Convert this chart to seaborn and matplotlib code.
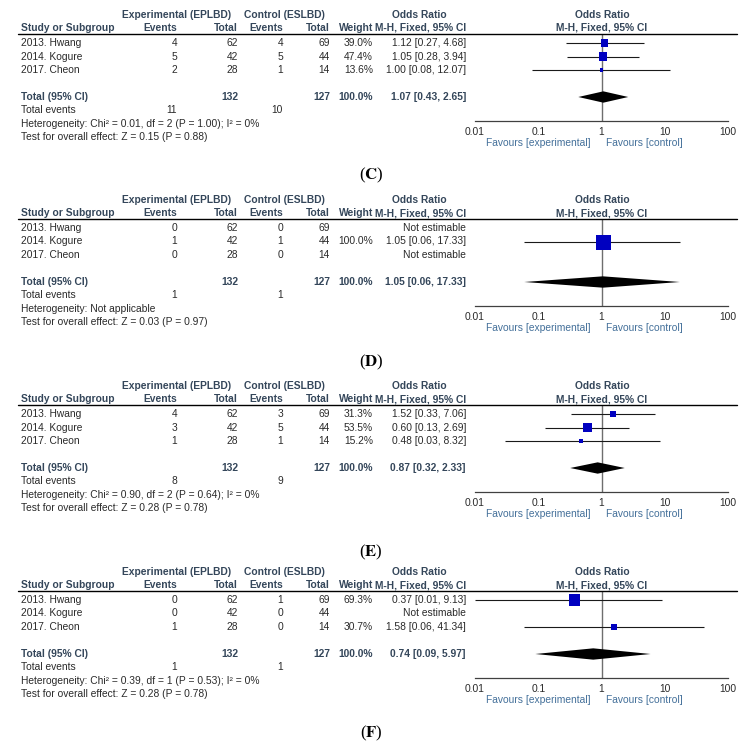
import matplotlib
matplotlib.use("Agg")
import matplotlib.pyplot as plt
import seaborn as sns
from matplotlib.lines import Line2D


# ==========================================
# DATA
# ==========================================

panel_labels = ["C", "D", "E", "F"]

studies = ["2013. Hwang", "2014. Kogure", "2017. Cheon"]
exp_total = [62, 42, 28]
ctl_total = [69, 44, 14]

exp_events = [[4, 5, 2], [0, 1, 0], [4, 3, 1], [0, 0, 1]]
ctl_events = [[4, 5, 1], [0, 1, 0], [3, 5, 1], [1, 0, 0]]

weights = [[39.0, 47.4, 13.6], [None, 100.0, None], [31.3, 53.5, 15.2], [69.3, None, 30.7]]
or_est = [[1.12, 1.05, 1.00], [None, 1.05, None], [1.52, 0.60, 0.48], [0.37, None, 1.58]]
or_lo = [[0.27, 0.28, 0.08], [None, 0.06, None], [0.33, 0.13, 0.03], [0.01, None, 0.06]]
or_hi = [[4.68, 3.94, 12.07], [None, 17.33, None], [7.06, 2.69, 8.32], [9.13, None, 41.34]]

total_est = [1.07, 1.05, 0.87, 0.74]
total_lo = [0.43, 0.06, 0.32, 0.09]
total_hi = [2.65, 17.33, 2.33, 5.97]
total_exp_events = [11, 1, 8, 1]
total_ctl_events = [10, 1, 9, 1]

heterogeneity = [
    "Heterogeneity: Chi² = 0.01, df = 2 (P = 1.00); I² = 0%",
    "Heterogeneity: Not applicable",
    "Heterogeneity: Chi² = 0.90, df = 2 (P = 0.64); I² = 0%",
    "Heterogeneity: Chi² = 0.39, df = 1 (P = 0.53); I² = 0%",
]
overall_effect = [
    "Test for overall effect: Z = 0.15 (P = 0.88)",
    "Test for overall effect: Z = 0.03 (P = 0.97)",
    "Test for overall effect: Z = 0.28 (P = 0.78)",
    "Test for overall effect: Z = 0.28 (P = 0.78)",
]

tick_values = [0.01, 0.1, 1, 10, 100]
tick_labels = ["0.01", "0.1", "1", "10", "100"]


# ==========================================
# STYLE
# ==========================================

sns.set_theme(style="white")
plt.rcParams["font.family"] = ["Liberation Sans", "DejaVu Sans"]
plt.rcParams["mathtext.fontset"] = "stix"

W, H = 742, 743
fig = plt.figure(figsize=(W / 100, H / 100), dpi=100)

FS = 7.4
HEAD = "#34465a"
TXT = "#2a2a2a"
FAV = "#44709a"
BLUE = "#0000c0"

panel_top = [0, 185, 371, 557]
label_y = [175, 362, 552, 733]


def put(x, y, s, **kw):
    kw.setdefault("fontsize", FS)
    kw.setdefault("color", TXT)
    fig.text(x / W, 1 - y / H, s, va="center", **kw)


def row_px(off, i):
    return off + 43 + 13.5 * i


# ==========================================
# PANELS
# ==========================================

for p, lab in enumerate(panel_labels):
    off = panel_top[p]

    # header
    hb = dict(fontweight="bold", color=HEAD)
    put(177, off + 15, "Experimental (EPLBD)", ha="center", **hb)
    put(284, off + 15, "Control (ESLBD)", ha="center", **hb)
    put(419, off + 15, "Odds Ratio", ha="center", **hb)
    put(602, off + 15, "Odds Ratio", ha="center", **hb)
    put(21, off + 28, "Study or Subgroup", ha="left", **hb)
    put(177, off + 28, "Events", ha="right", **hb)
    put(238, off + 28, "Total", ha="right", **hb)
    put(283, off + 28, "Events", ha="right", **hb)
    put(330, off + 28, "Total", ha="right", **hb)
    put(373, off + 28, "Weight", ha="right", **hb)
    put(466, off + 28, "M-H, Fixed, 95% CI", ha="right", **hb)
    put(602, off + 28, "M-H, Fixed, 95% CI", ha="center", **hb)

    fig.add_artist(Line2D([18 / W, 737 / W], [1 - (off + 34) / H] * 2,
                          color="black", lw=1.0))

    # study rows
    for i, name in enumerate(studies):
        y = row_px(off, i)
        put(21, y, name, ha="left")
        put(177, y, str(exp_events[p][i]), ha="right")
        put(238, y, str(exp_total[i]), ha="right")
        put(283, y, str(ctl_events[p][i]), ha="right")
        put(330, y, str(ctl_total[i]), ha="right")
        if weights[p][i] is not None:
            put(373, y, f"{weights[p][i]:.1f}%", ha="right")
            put(466, y, f"{or_est[p][i]:.2f} [{or_lo[p][i]:.2f}, {or_hi[p][i]:.2f}]",
                ha="right")
        else:
            put(466, y, "Not estimable", ha="right")

    # total row
    y = row_px(off, 4)
    tb = dict(fontweight="bold", color=HEAD)
    put(21, y, "Total (95% CI)", ha="left", **tb)
    put(238, y, str(sum(exp_total)), ha="right", **tb)
    put(330, y, str(sum(ctl_total)), ha="right", **tb)
    put(373, y, "100.0%", ha="right", **tb)
    put(466, y, f"{total_est[p]:.2f} [{total_lo[p]:.2f}, {total_hi[p]:.2f}]",
        ha="right", **tb)

    put(21, off + 110, "Total events", ha="left")
    put(177, off + 110, str(total_exp_events[p]), ha="right")
    put(283, off + 110, str(total_ctl_events[p]), ha="right")
    put(21, off + 124, heterogeneity[p], ha="left")
    put(21, off + 137, overall_effect[p], ha="left")

    # forest plot
    top, bot = off + 34, off + 121
    ax = fig.add_axes([475 / W, 1 - bot / H, 253 / W, (bot - top) / H])
    ax.set_xscale("log")
    ax.set_xlim(0.01, 100)
    ax.set_ylim((bot - off - 43) / 13.5, (top - off - 43) / 13.5)
    ax.set_facecolor("none")
    for s in ["top", "left", "right"]:
        ax.spines[s].set_visible(False)
    ax.spines["bottom"].set_color("#404040")
    ax.spines["bottom"].set_linewidth(0.9)
    ax.set_xticks(tick_values)
    ax.set_xticklabels(tick_labels)
    ax.minorticks_off()
    ax.set_yticks([])
    ax.tick_params(axis="x", direction="inout", length=7, width=0.9,
                   color="#404040", labelsize=FS, labelcolor=TXT, pad=1)
    ax.axvline(1, color="#6e6e6e", lw=1.0, zorder=1)

    rows = [i for i in range(3) if weights[p][i] is not None]
    est = [or_est[p][i] for i in rows]
    lo = [or_lo[p][i] for i in rows]
    hi = [or_hi[p][i] for i in rows]
    sizes = [((2 + 13 * weights[p][i] / 100) * 0.72) ** 2 for i in rows]

    ax.hlines(rows, lo, hi, color="#1a1a1a", lw=0.8, zorder=2)
    sns.scatterplot(x=est, y=rows, marker="s", s=sizes, color=BLUE,
                    linewidth=0, ax=ax, legend=False, zorder=3)

    h = 0.42
    ax.fill([total_lo[p], total_est[p], total_hi[p], total_est[p]],
            [4, 4 - h, 4, 4 + h], color="black", lw=0, zorder=3)

    put(590, off + 143, "Favours [experimental]", ha="right", color=FAV)
    put(606, off + 143, "Favours [control]", ha="left", color=FAV)

    # panel label
    fig.text(371 / W, 1 - label_y[p] / H, "($\\mathbf{" + lab + "}$)",
             ha="center", va="center", fontsize=12,
             family="Liberation Serif", color="black")

fig.savefig("out.png", dpi=100)
